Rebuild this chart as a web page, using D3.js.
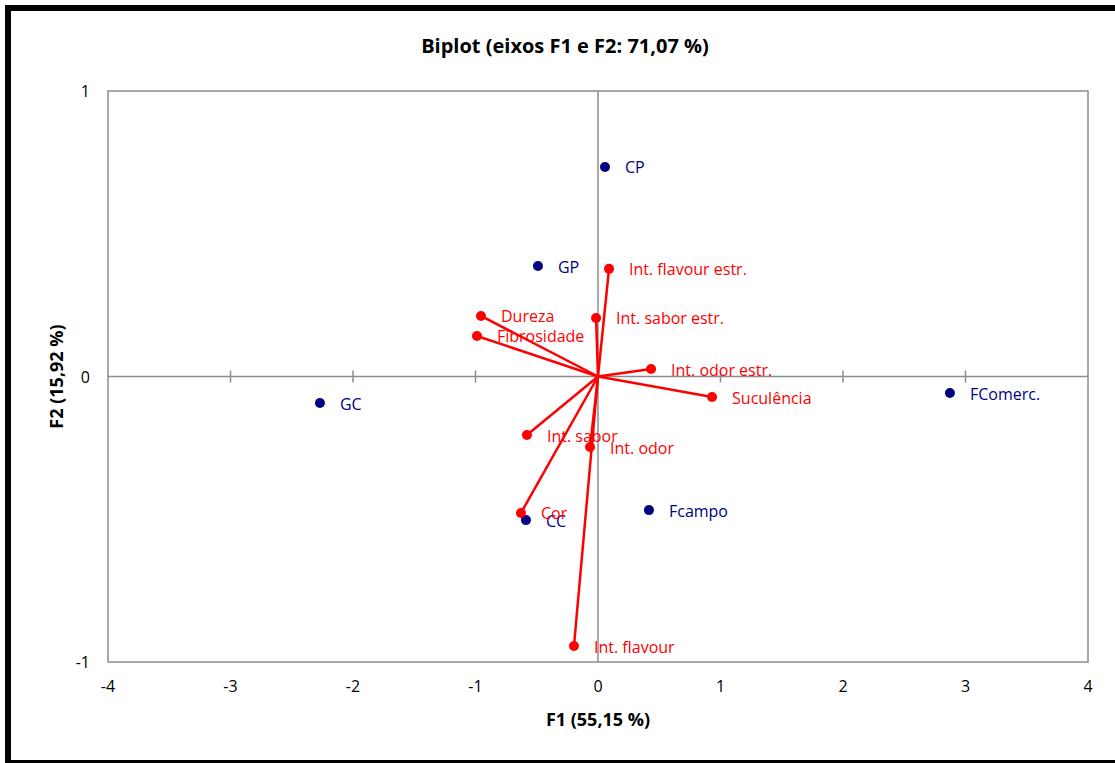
<!DOCTYPE html>
<html>
<head>
<meta charset="utf-8">
<script src="https://cdn.jsdelivr.net/npm/d3@7"></script>
<style>
  body { margin: 0; background: #fff; }
  text { font-family: "Open Sans", sans-serif; }
</style>
</head>
<body>
<svg id="chart" width="1115" height="763"></svg>
<script>
// Observations (navy points)
const obsNames = ["CP", "GP", "GC", "FComerc.", "Fcampo", "CC"];
const obsF1 = [0.057, -0.49, -2.27, 2.873, 0.416, -0.588];
const obsF2 = [0.734, 0.387, -0.093, -0.058, -0.468, -0.503];

// Variables (red vectors)
const varNames = ["Int. flavour estr.", "Dureza", "Fibrosidade", "Int. sabor estr.", "Int. odor estr.",
  "Suculência", "Int. sabor", "Int. odor", "Cor", "Int. flavour"];
const varF1 = [0.09, -0.955, -0.988, -0.016, 0.433, 0.931, -0.58, -0.065, -0.629, -0.196];
const varF2 = [0.377, 0.212, 0.142, 0.205, 0.026, -0.072, -0.205, -0.247, -0.478, -0.944];

const xTicks = [-4, -3, -2, -1, 0, 1, 2, 3, 4];
const yTicks = [-1, 0, 1];

const svg = d3.select("#chart");

// outer frame
svg.append("rect")
  .attr("x", 8).attr("y", 8)
  .attr("width", 1115).attr("height", 755)
  .attr("fill", "none").attr("stroke", "#000").attr("stroke-width", 6);

const plotLeft = 108, plotRight = 1088, plotTop = 91, plotBottom = 662;

const x = d3.scaleLinear().domain([-4, 4]).range([plotLeft, plotRight]);
const y = d3.scaleLinear().domain([-1, 1]).range([plotBottom, plotTop]);

// plot frame
svg.append("rect")
  .attr("x", plotLeft).attr("y", plotTop)
  .attr("width", plotRight - plotLeft).attr("height", plotBottom - plotTop)
  .attr("fill", "none").attr("stroke", "#8c8c8c").attr("stroke-width", 1.5);

// zero lines
svg.append("line")
  .attr("x1", plotLeft).attr("x2", plotRight).attr("y1", y(0)).attr("y2", y(0))
  .attr("stroke", "#8c8c8c").attr("stroke-width", 1.5);
svg.append("line")
  .attr("x1", x(0)).attr("x2", x(0)).attr("y1", plotTop).attr("y2", plotBottom)
  .attr("stroke", "#8c8c8c").attr("stroke-width", 1.5);

// ticks on the zero line
svg.selectAll(".xtick")
  .data(xTicks.filter(d => d !== 0 && d !== -4 && d !== 4))
  .enter().append("line")
  .attr("x1", d => x(d)).attr("x2", d => x(d))
  .attr("y1", y(0) - 6).attr("y2", y(0) + 6)
  .attr("stroke", "#8c8c8c").attr("stroke-width", 1.5);

// tick labels
svg.selectAll(".xlab")
  .data(xTicks)
  .enter().append("text")
  .attr("x", d => x(d)).attr("y", 692)
  .attr("text-anchor", "middle")
  .attr("font-size", 16)
  .text(d => d);

svg.selectAll(".ylab")
  .data(yTicks)
  .enter().append("text")
  .attr("x", 90).attr("y", d => y(d) + 6)
  .attr("text-anchor", "end")
  .attr("font-size", 16)
  .text(d => d);

// titles
svg.append("text")
  .attr("x", 565).attr("y", 53)
  .attr("text-anchor", "middle")
  .attr("font-size", 20).attr("font-weight", "bold")
  .text("Biplot (eixos F1 e F2: 71,07 %)");

svg.append("text")
  .attr("x", 598).attr("y", 726)
  .attr("text-anchor", "middle")
  .attr("font-size", 18).attr("font-weight", "bold")
  .text("F1 (55,15 %)");

svg.append("text")
  .attr("transform", `translate(63, ${y(0)}) rotate(-90)`)
  .attr("text-anchor", "middle")
  .attr("font-size", 18).attr("font-weight", "bold")
  .text("F2 (15,92 %)");

// observations
const obs = obsNames.map((n, i) => ({ name: n, f1: obsF1[i], f2: obsF2[i] }));
svg.selectAll(".obs")
  .data(obs)
  .enter().append("circle")
  .attr("cx", d => x(d.f1)).attr("cy", d => y(d.f2))
  .attr("r", 5)
  .attr("fill", "#000080");
svg.selectAll(".obslab")
  .data(obs)
  .enter().append("text")
  .attr("x", d => x(d.f1) + 20).attr("y", d => y(d.f2) + 6.5)
  .attr("font-size", 16)
  .attr("fill", "#000080")
  .text(d => d.name);

// variables
const vars = varNames.map((n, i) => ({ name: n, f1: varF1[i], f2: varF2[i] }));
svg.selectAll(".vec")
  .data(vars)
  .enter().append("line")
  .attr("x1", x(0)).attr("y1", y(0))
  .attr("x2", d => x(d.f1)).attr("y2", d => y(d.f2))
  .attr("stroke", "#ff0000").attr("stroke-width", 2.5);
svg.selectAll(".vecdot")
  .data(vars)
  .enter().append("circle")
  .attr("cx", d => x(d.f1)).attr("cy", d => y(d.f2))
  .attr("r", 5)
  .attr("fill", "#ff0000");
svg.selectAll(".veclab")
  .data(vars)
  .enter().append("text")
  .attr("x", d => x(d.f1) + 20).attr("y", d => y(d.f2) + 6.5)
  .attr("font-size", 16)
  .attr("fill", "#ff0000")
  .text(d => d.name);
</script>
</body>
</html>
